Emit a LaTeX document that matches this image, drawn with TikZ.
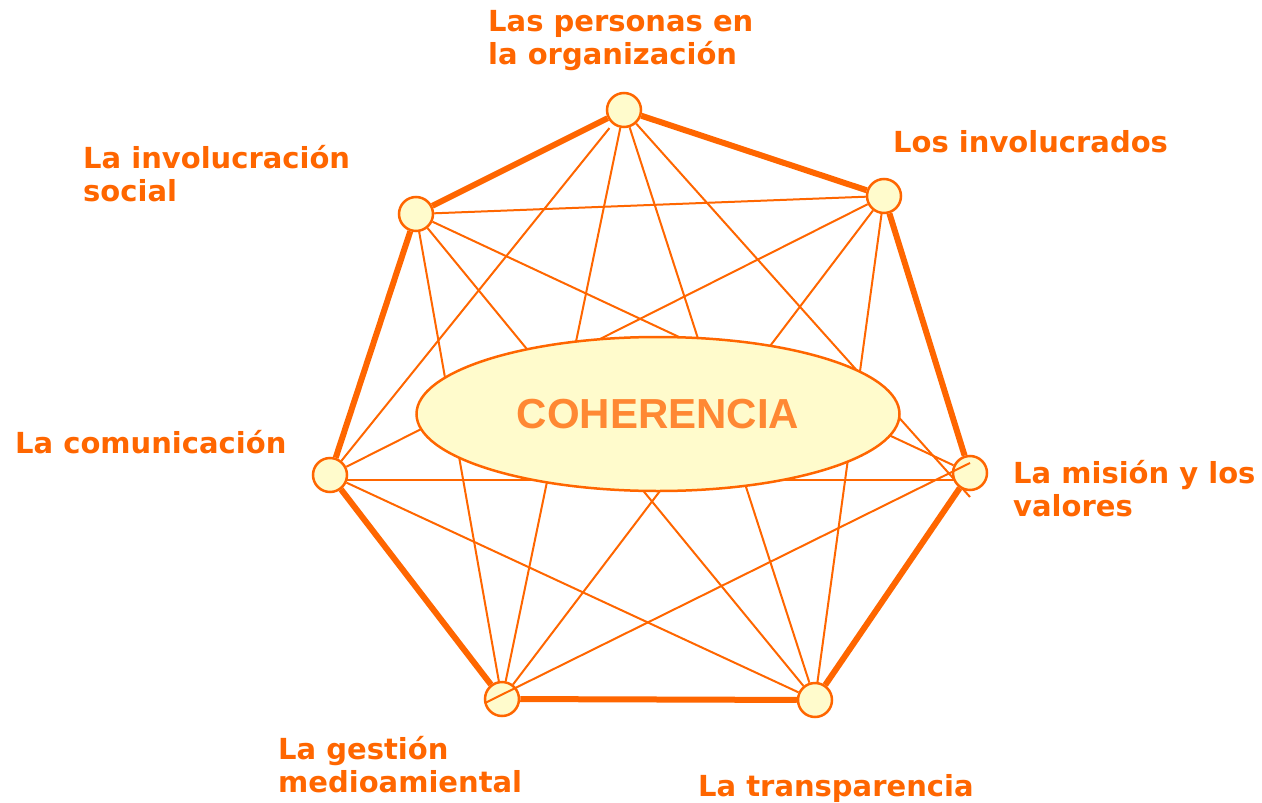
\documentclass[tikz,border=0pt]{standalone}
\usepackage{fontspec}
\setmainfont{DejaVu Sans}
\newfontfamily\arialfont{Liberation Sans}
\usetikzlibrary{backgrounds,shapes.geometric}
\definecolor{org}{HTML}{FF6600}
\definecolor{coh}{HTML}{FF8833}
\definecolor{pale}{HTML}{FFFBCC}
\begin{document}
\begin{tikzpicture}[x=1pt,y=-1pt,
  dot/.style={circle,draw=org,fill=pale,line width=2.5pt,minimum size=34pt,inner sep=0pt},
  thinline/.style={draw=org,line width=2pt},
  thickline/.style={draw=org,line width=6pt},
  lbl/.style={text=org,font=\fontsize{29}{33}\selectfont\bfseries,align=left,inner sep=0pt,anchor=base west}]
\useasboundingbox (0,0) rectangle (1262,803);
% vertices
\node[dot] (T)  at (624,110) {};
\node[dot] (UR) at (884,196) {};
\node[dot] (R)  at (970,473) {};
\node[dot] (BR) at (815,700) {};
\node[dot] (BL) at (502,699) {};
\node[dot] (L)  at (330,475) {};
\node[dot] (UL) at (416,214) {};
\coordinate (tRend) at (970,497);
\coordinate (blS) at (485,703);
\coordinate (rE) at (970,463);
% centre
\node[ellipse,draw=org,fill=pale,line width=2.5pt,minimum width=483pt,minimum height=154pt,inner sep=0pt,
      text=coh,font=\arialfont\fontsize{42}{42}\selectfont\bfseries] (C) at (658,414) {COHERENCIA};
\begin{pgfonlayer}{background}
  \draw[thickline] (T) -- (UR);
  \draw[thickline] (UR) -- (R);
  \draw[thickline] (R) -- (BR);
  \draw[thickline] (BR) -- (BL);
  \draw[thickline] (BL) -- (L);
  \draw[thickline] (L) -- (UL);
  \draw[thickline] (UL) -- (T);
  \draw[thinline] (T) -- (BL);
  \draw[thinline] (T) -- (BR);
  \draw[thinline] (T) -- (tRend);
  \draw[thinline,shorten >=5pt] (L) -- (T);
  \draw[thinline] (UR) -- (UL);
  \draw[thinline] (UR) -- (L);
  \draw[thinline] (UR) -- (BL);
  \draw[thinline] (UR) -- (BR);
  \draw[thinline] (UL) -- (R);
  \draw[thinline] (UL) -- (BL);
  \draw[thinline] (UL) -- (BR);
  \draw[thinline] ([yshift=-5pt]L.center) -- ([yshift=-7pt]R.center);
  \draw[thinline] (L) -- (BR);
\end{pgfonlayer}
\draw[thinline] (blS) -- (rE);
% labels (base = baseline of last line)
\node[lbl] (lT)  at (488,64)  {Las personas en\\la organización};
\node[lbl] (lUR) at (893,152) {Los involucrados};
\node[lbl] (lUL) at (83,201)  {La involucración\\social};
\node[lbl] (lL)  at (15,453)  {La comunicación};
\node[lbl] (lR)  at (1013,516) {La misión y los\\valores};
\node[lbl] (lBL) at (278,792) {La gestión\\medioamiental};
\node[lbl] (lBR) at (698,796) {La transparencia};
\end{tikzpicture}
\end{document}
